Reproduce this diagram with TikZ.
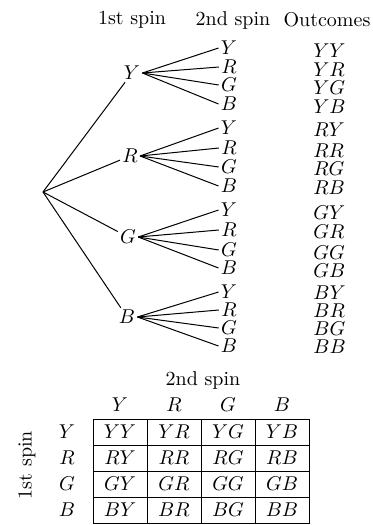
\documentclass[tikz,border=0pt]{standalone}
\begin{document}
\begin{tikzpicture}[x=0.5pt,y=-0.5pt,
  lab/.style={inner sep=0pt},
  outc/.style={inner sep=0pt, anchor=west},
  br/.style={line width=0.5pt},
  cell/.style={draw, line width=0.5pt, minimum width=27pt, minimum height=13pt, inner sep=0pt}]
\useasboundingbox (0,0) rectangle (372,525);
% headers
\node (h1) at (132,20) {1st spin};
\node (h2) at (233,20) {2nd spin};
\node (h3) at (327,20) {Outcomes};
% tree
\coordinate (r) at (43,192);
\foreach \i/\fl/\x/\y in {1/Y/132/73, 2/R/130/156, 3/G/128/237, 4/B/127/317}{
  \node[lab, inner sep=1pt] (a\i) at (\x,\y) {$\fl$};
  \draw[br] (r) -- (a\i);
}
\foreach \i/\fl/\ya/\yb/\yc/\yd/\oa/\ob/\oc/\od in {
  1/Y/48/67/85/104/51/70/88/107,
  2/R/128/148/167/186/130/151/169/188,
  3/G/210/230/250/268/213/232/253/271,
  4/B/292/310/328/346/293/311/329/347}{
  \node[lab] (b\i1) at (229,\ya) {$Y$};
  \node[lab] (b\i2) at (229,\yb) {$R$};
  \node[lab] (b\i3) at (229,\yc) {$G$};
  \node[lab] (b\i4) at (229,\yd) {$B$};
  \node[outc] (o\i1) at (313,\oa) {$\fl Y$};
  \node[outc] (o\i2) at (313,\ob) {$\fl R$};
  \node[outc] (o\i3) at (313,\oc) {$\fl G$};
  \node[outc] (o\i4) at (313,\od) {$\fl B$};
  \foreach \j in {1,2,3,4}{\draw[br] (a\i.east) -- ([xshift=-1pt]b\i\j.west);}
}
% table
\node (t2) at (203,380) {2nd spin};
\node[rotate=90] (t1) at (27,465) {1st spin};
\foreach \j/\c/\x in {1/Y/120, 2/R/174, 3/G/228, 4/B/282}{
  \node (ch\j) at (\x,405) {$\c$};
}
\foreach \i/\r/\y in {1/Y/432, 2/R/458, 3/G/484, 4/B/510}{
  \node (rh\i) at (67,\y) {$\r$};
  \foreach \j/\c/\x in {1/Y/120, 2/R/174, 3/G/228, 4/B/282}{
    \node[cell] (c\i\j) at (\x,\y) {$\r\c$};
  }
}
\end{tikzpicture}
\end{document}
